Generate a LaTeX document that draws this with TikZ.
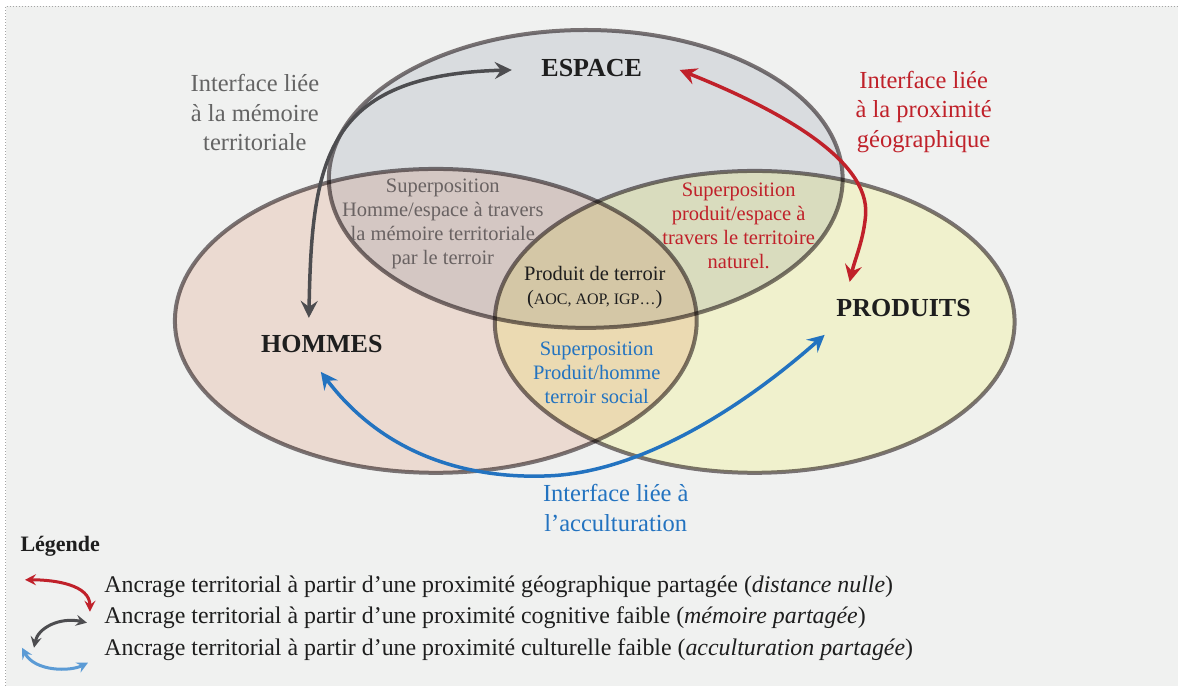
\documentclass[tikz,border=0pt]{standalone}
\usepackage{fontspec}
\setmainfont{Liberation Serif}
\usetikzlibrary{arrows.meta}
\definecolor{paper}{RGB}{240,241,240}
\definecolor{frame}{RGB}{165,165,165}
\definecolor{espacefill}{RGB}{231,233,237}
\definecolor{hommesfill}{RGB}{250,231,223}
\definecolor{produitsfill}{RGB}{255,255,218}
\definecolor{setline}{RGB}{128,121,123}
\definecolor{ink}{RGB}{30,30,30}
\definecolor{memgray}{RGB}{100,100,100}
\definecolor{overgray}{RGB}{105,98,98}
\definecolor{geored}{RGB}{192,33,42}
\definecolor{cultblue}{RGB}{35,115,192}
\definecolor{memdark}{RGB}{77,77,80}
\definecolor{keyblue}{RGB}{91,155,213}

\begin{document}
\begin{tikzpicture}[x=1pt,y=-1pt,>={Stealth[length=17pt,width=17pt,inset=6pt]},
    set/.style={draw=setline,line width=4pt},
    setname/.style={font=\fontsize{26}{30}\selectfont\bfseries,text=ink},
    iface/.style={align=center,font=\fontsize{24.5}{29.5}\selectfont},
    overlap/.style={align=center,font=\fontsize{20.5}{24}\selectfont},
    link/.style={<->,line width=3.5pt},
    keyarrow/.style={{Stealth[length=11pt,width=11pt,inset=4pt]}-{Stealth[length=11pt,width=11pt,inset=4pt]},line width=3pt},
    keytext/.style={anchor=west,font=\fontsize{23.9}{29.5}\selectfont,text=ink}]

        \fill[white] (0,0) rectangle (1178,686);
        \fill[paper] (6,6) rectangle (1178,686);
        \draw[frame,dotted,line width=1pt] (6,686) -- (6,6) -- (1178,6);

        \begin{scope}[blend mode=multiply]
            \draw[set,fill=espacefill] (586,179) ellipse [x radius=257pt,y radius=149pt];
            \draw[set,fill=hommesfill] (436,321) ellipse [x radius=261pt,y radius=152pt];
            \draw[set,fill=produitsfill] (755,322) ellipse [x radius=260pt,y radius=151pt];
        \end{scope}

        \node[setname] (espace) at (592,68) {ESPACE};
        \node[setname] (hommes) at (322,344) {HOMMES};
        \node[setname] (produits) at (904,308) {PRODUITS};

        \node[iface,text=memgray] (memlabel) at (255,113) {Interface liée\\à la mémoire\\territoriale};
        \node[iface,text=geored] (geolabel) at (924,112) {Interface liée\\à la proximité\\géographique};
        \node[iface,text=cultblue] (cultlabel) at (616,508) {Interface liée à\\l’acculturation};

        \node[overlap,text=overgray] (homesp) at (443,224) {Superposition\\Homme/espace à travers\\la mémoire territoriale\\par le terroir};
        \node[overlap,text=geored] (prodesp) at (739,226) {Superposition\\produit/espace à\\travers le territoire\\naturel.};
        \node[overlap,text=ink] (terroir) at (595,288) {Produit de terroir\\(\fontsize{16}{24}\selectfont AOC, AOP, IGP…\fontsize{20.5}{24}\selectfont)};
        \node[overlap,text=cultblue] (prodhom) at (597,373) {Superposition\\Produit/homme\\terroir social};

        \coordinate (memtip) at (512,70);
        \coordinate (memfoot) at (309,318);
        \draw[link,memdark] (memfoot) .. controls (312,160) and (325,75) .. (memtip);

        \coordinate (geotip) at (680,70);
        \coordinate (geofoot) at (850,282);
        \draw[link,geored] (geotip) .. controls (780,110) and (870,160) .. (866,215)
            .. controls (864,240) and (855,260) .. (geofoot);

        \coordinate (culttip) at (321,372);
        \coordinate (cultfoot) at (825,335);
        \draw[link,cultblue] (culttip) .. controls (380,450) and (460,480) .. (550,476)
            .. controls (640,472) and (740,410) .. (cultfoot);

        \node[anchor=west,font=\fontsize{22}{26}\selectfont\bfseries,text=ink] (legende) at (17,547) {Légende};

        \coordinate (k1a) at (25,580);
        \coordinate (k1b) at (90,612);
        \draw[keyarrow,geored] (k1a) .. controls (55,580) and (90,585) .. (k1b);
        \coordinate (k2a) at (87,623);
        \coordinate (k2b) at (34,648);
        \draw[keyarrow,memdark] (k2a) .. controls (60,617) and (38,628) .. (k2b);
        \coordinate (k3a) at (22,648);
        \coordinate (k3b) at (88,663);
        \draw[keyarrow,keyblue] (k3a) .. controls (35,672) and (70,672) .. (k3b);

        \node[keytext] (key1) at (101,587) {Ancrage territorial à partir d’une proximité géographique partagée (\textit{distance nulle})};
        \node[keytext] (key2) at (101,618) {Ancrage territorial à partir d’une proximité cognitive faible (\textit{mémoire partagée})};
        \node[keytext] (key3) at (101,650) {Ancrage territorial à partir d’une proximité culturelle faible (\textit{acculturation partagée})};
\end{tikzpicture}
\end{document}
